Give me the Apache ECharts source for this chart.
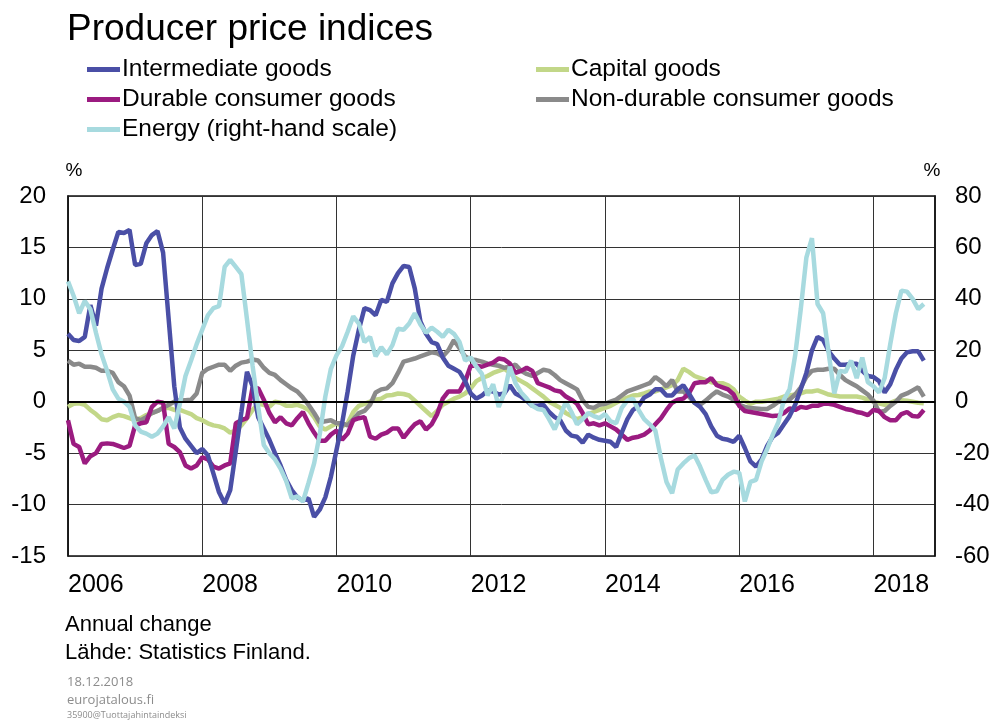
<!DOCTYPE html>
<html>
<head>
<meta charset="utf-8">
<script src="https://cdn.jsdelivr.net/npm/echarts@6/dist/echarts.min.js"></script>
<style>
html,body{margin:0;padding:0;background:#fff;}
#chart{width:995px;height:724px;}
</style>
</head>
<body>
<div id="chart"></div>
<script>
// Monthly observations Jan 2006 .. Oct 2018 (annual change, %)
var startYear = 2006;
var axisEndYear = 2018; // axis runs to Dec 2018
var yearTicks = ['2006','2008','2010','2012','2014','2016','2018'];

var intermediate = [
 6.6, 6.0, 5.9, 6.3, 9.4, 7.4, 11.0, 13.0, 14.8, 16.5, 16.4, 16.7,
 13.3, 13.4, 15.4, 16.2, 16.6, 14.5, 8.0, 1.5, -2.5, -3.6, -4.3, -5.0,
 -4.6, -5.2, -7.0, -8.8, -9.9, -8.6, -4.8, -1.0, 2.9, 1.5, -1.5, -2.6,
 -3.7, -5.0, -6.2, -7.6, -8.6, -9.3, -9.6, -9.4, -11.2, -10.5, -9.3, -7.3,
 -4.7, -2.1, 1.0, 4.5, 7.0, 9.1, 8.9, 8.4, 9.9, 9.7, 11.5, 12.5,
 13.2, 13.1, 11.0, 7.8, 6.6, 5.8, 5.6, 4.3, 3.5, 3.2, 2.9, 2.0,
 0.8, 0.3, 0.6, 1.1, 1.0, 0.7, 0.8, 1.6, 0.8, 0.5, 0.1, -0.4,
 -0.4, -0.3, -1.0, -1.5, -1.8, -2.8, -3.3, -3.4, -4.0, -3.2, -3.5, -3.7,
 -3.8, -3.9, -4.4, -3.0, -1.7, -0.8, -0.4, 0.4, 0.7, 1.2, 1.2, 0.6,
 0.6, 1.2, 1.6, 0.8, -0.1, -0.5, -1.2, -2.4, -3.3, -3.6, -3.7, -3.9,
 -3.3, -4.5, -5.8, -6.3, -5.6, -4.3, -3.4, -3.0, -2.2, -1.4, -0.3, 1.2,
 2.8, 5.0, 6.3, 6.0, 4.9, 4.2, 3.6, 3.6, 3.7, 3.7, 3.0, 2.5,
 2.4, 2.0, 0.9, 1.7, 3.1, 4.2, 4.8, 4.9, 4.9, 4.0
];

var durable = [
 -1.8, -4.1, -4.4, -6.0, -5.3, -5.0, -4.1, -4.05, -4.1, -4.3, -4.5, -4.3,
 -2.3, -2.1, -2.0, -0.5, 0.0, -0.1, -4.1, -4.4, -4.9, -6.2, -6.5, -6.2,
 -5.4, -5.6, -6.3, -6.5, -6.2, -6.0, -2.1, -1.8, -1.6, 1.4, 1.3, 0.2,
 -1.1, -2.0, -1.5, -2.1, -2.3, -1.6, -1.0, -2.1, -3.0, -3.8, -3.8, -3.2,
 -2.8, -3.7, -3.1, -1.8, -1.6, -1.5, -3.4, -3.6, -3.2, -3.0, -2.6, -2.6,
 -3.5, -2.8, -2.2, -1.9, -2.7, -2.2, -1.2, 0.3, 1.0, 1.0, 1.0, 2.0,
 3.5, 3.5, 3.4, 3.6, 3.8, 4.2, 4.1, 3.7, 2.8, 3.0, 3.3, 3.0,
 1.8, 1.6, 1.4, 1.1, 1.0, 0.5, 0.2, -0.2, -1.1, -2.2, -2.1, -2.3,
 -2.1, -2.4, -2.7, -3.2, -3.7, -3.5, -3.4, -3.2, -2.8, -2.2, -1.6, -0.8,
 -0.1, 0.2, 0.3, 0.8, 1.8, 1.9, 1.9, 2.3, 1.6, 1.4, 1.2, 0.7,
 -0.4, -0.9, -1.0, -1.1, -1.2, -1.3, -1.4, -1.35, -1.1, -0.65, -0.8, -0.5,
 -0.6, -0.4, -0.4, -0.2, -0.2, -0.3, -0.5, -0.7, -0.8, -1.0, -1.1, -1.3,
 -0.8, -0.9, -1.5, -1.8, -1.8, -1.2, -1.0, -1.4, -1.45, -0.8
];

var capital = [
 -0.5, -0.2, -0.15, -0.3, -0.8, -1.2, -1.7, -1.8, -1.5, -1.3, -1.4, -1.6,
 -1.8, -1.6, -1.3, -1.1, -0.9, -0.6, -0.6, -0.8, -0.8, -1.0, -1.2, -1.6,
 -1.8, -2.1, -2.3, -2.4, -2.6, -3.0, -2.8, -2.3, -1.6, -0.8, -0.2, -0.3,
 -0.5, 0.0, -0.1, -0.4, -0.4, -0.3, -0.5, -0.8, -1.5, -2.4, -2.7, -2.4,
 -2.1, -2.4, -2.1, -1.0, -0.4, -0.2, 0.0, 0.2, 0.3, 0.6, 0.65, 0.8,
 0.75, 0.6, 0.1, -0.4, -0.9, -1.4, -0.9, -0.3, 0.0, 0.3, 0.5, 0.8,
 1.3, 2.0, 2.3, 2.5, 2.8, 3.0, 3.2, 2.8, 2.3, 2.0, 1.7, 1.3,
 0.9, 0.5, 0.0, -0.3, -0.6, -1.1, -1.4, -1.7, -1.5, -1.2, -1.0, -0.8,
 -0.6, -0.4, -0.1, 0.2, 0.4, 0.6, 0.65, 0.8, 1.0, 1.0, 1.2, 1.4,
 1.6, 2.1, 3.2, 2.9, 2.5, 2.3, 2.1, 1.9, 1.8, 1.8, 1.6, 1.2,
 0.5, 0.1, -0.2, 0.0, 0.0, 0.1, 0.2, 0.3, 0.5, 0.6, 0.7, 0.8,
 1.0, 1.0, 1.1, 0.9, 0.7, 0.6, 0.5, 0.5, 0.5, 0.5, 0.4, 0.2,
 0.0, -0.15, -0.3, -0.1, 0.1, 0.15, 0.1, 0.0, -0.1, -0.15
];

var nonDurable = [
 4.0, 3.6, 3.7, 3.4, 3.4, 3.3, 3.0, 3.0, 2.8, 1.9, 1.5, 0.6,
 -1.6, -1.8, -1.5, -1.1, -0.9, -0.6, -0.3, 0.0, 0.15, 0.15, 0.2, 0.8,
 2.8, 3.2, 3.4, 3.6, 3.6, 3.0, 3.5, 3.8, 3.9, 4.1, 4.0, 3.3,
 2.8, 2.6, 2.1, 1.7, 1.3, 1.0, 0.4, -0.3, -1.1, -2.0, -1.9, -1.8,
 -2.1, -2.1, -2.3, -1.7, -1.1, -0.9, -0.3, 0.9, 1.2, 1.3, 1.8, 2.8,
 3.9, 4.05, 4.2, 4.4, 4.6, 4.8, 4.7, 4.4, 5.0, 6.0, 5.2, 4.4,
 4.1, 4.05, 3.9, 3.7, 3.6, 3.5, 3.3, 3.4, 3.6, 3.0, 2.7, 2.5,
 2.8, 3.1, 3.0, 2.6, 2.1, 1.8, 1.5, 1.2, 0.15, -0.5, -0.6, -0.3,
 -0.2, 0.0, 0.2, 0.6, 1.0, 1.2, 1.4, 1.6, 1.8, 2.4, 2.0, 1.5,
 2.1, 1.0, 1.0, 0.5, -0.1, -0.3, 0.1, 0.6, 1.0, 0.7, 0.5, 0.2,
 -0.3, -0.5, -0.6, -0.65, -0.7, -0.7, -0.4, 0.0, 0.0, 0.2, 0.7, 1.4,
 2.4, 3.0, 3.1, 3.1, 3.2, 3.2, 2.6, 2.1, 1.8, 1.5, 1.1, 0.7,
 0.1, -1.0, -0.9, -0.4, 0.0, 0.6, 0.8, 1.1, 1.4, 0.5
];

// Energy, right-hand scale
var energy = [
 46.8, 41.2, 34.4, 39.2, 36, 26.8, 18.4, 12, 4.8, 1.2, 0, -2,
 -9.2, -11.6, -12.4, -13.6, -12.4, -9.6, -6, -10.4, -0.8, 10, 16, 22.4,
 28, 33.6, 36.4, 37.2, 52.4, 55.2, 52.4, 49.6, 32, 14, -2, -16.8,
 -20, -22.4, -26, -30.8, -37.6, -36.8, -38.8, -31.6, -24, -12.8, 2, 12.8,
 18, 21.6, 27.2, 33.2, 30.4, 23.2, 25.2, 17.6, 21.2, 18.4, 22, 28.4,
 28, 30.4, 34.4, 30, 26.8, 28.8, 27.2, 25.2, 28, 26.4, 23.2, 16,
 17.2, 13.6, 10.8, 2.4, 6.8, -2, 3.2, 13.6, 7.2, 3.6, 1.2, -1.6,
 -2.8, -3.2, -6.8, -10.8, -5.6, 0, -4, -8.8, -6.8, -4.4, -5.6, -6.4,
 -4.8, -7.6, -8.4, -2.4, 0.4, 1.2, -3.2, -6.8, -8.8, -11.2, -22, -31.2,
 -35.6, -26.4, -24, -22, -20.8, -25.2, -30.4, -35.2, -34.8, -30.4, -28.4, -27.2,
 -27.6, -38.8, -31.2, -30.4, -23.2, -18.4, -12.8, -8, 0.8, 4.8, 18, 36,
 56, 63.6, 38, 34.4, 18.8, 3.2, 12, 11.6, 16, 9.2, 17.2, 7.6,
 6, 3.6, 9.2, 22.4, 34.4, 43.2, 42.8, 40, 36, 38
];

var seriesNames = ['Intermediate goods','Capital goods','Durable consumer goods','Non-durable consumer goods','Energy (right-hand scale)'];
var seriesColors = ['#4a4fa6','#c2d788','#9b1b80','#8a8a8a','#a7dadf'];

// month categories
var months = [];
for (var y = startYear; y <= axisEndYear; y++) {
  for (var m = 1; m <= 12; m++) months.push(y + '-' + (m < 10 ? '0' + m : m));
}
function isYearTick(idx, val) {
  var v = months[idx];
  return v.slice(5) === '01' && yearTicks.indexOf(v.slice(0, 4)) >= 0;
}

var FONT = '"Liberation Sans", Arial, sans-serif';
var chart = echarts.init(document.getElementById('chart'));

function legendAt(name, left, top) {
  return {
    data: [name], left: left, top: top, padding: 0, icon: 'rect',
    itemWidth: 33, itemHeight: 5, itemGap: 0,
    textStyle: { fontSize: 24.5, color: '#000', fontFamily: FONT, padding: [0,0,0,-3] }
  };
}

function lineSeries(idx, data, yIndex, extra) {
  var s = {
    name: seriesNames[idx], type: 'line', data: data, yAxisIndex: yIndex,
    showSymbol: false, symbol: 'none', smooth: false,
    lineStyle: { width: 4.5, color: seriesColors[idx] },
    itemStyle: { color: seriesColors[idx] },
    emphasis: { disabled: true }
  };
  if (extra) for (var k in extra) s[k] = extra[k];
  return s;
}

var option = {
  animation: false,
  backgroundColor: '#fff',
  title: {
    text: 'Producer price indices', left: 62, top: 6,
    textStyle: { fontSize: 37, fontWeight: 'normal', color: '#000', fontFamily: FONT }
  },
  legend: [
    legendAt('Intermediate goods', 87, 57),
    legendAt('Capital goods', 536, 57),
    legendAt('Durable consumer goods', 87, 87),
    legendAt('Non-durable consumer goods', 536, 87),
    legendAt('Energy (right-hand scale)', 87, 117)
  ],
  grid: {
    left: 68, right: 60, top: 196, bottom: 168,
    show: true, borderColor: '#111', borderWidth: 1.5
  },
  xAxis: {
    type: 'category', data: months, boundaryGap: false,
    axisLine: { show: true, lineStyle: { color: '#111', width: 1.5 } },
    axisTick: { show: false },
    axisLabel: {
      interval: isYearTick, align: 'left', margin: 17,
      fontSize: 25, color: '#000', fontFamily: FONT,
      formatter: function (v) { return v.slice(0, 4); }
    },
    splitLine: { show: true, interval: isYearTick, lineStyle: { color: '#333', width: 1 } }
  },
  yAxis: [
    {
      type: 'value', min: -15, max: 20, interval: 5, position: 'left',
      name: '%', nameLocation: 'end', nameGap: 16,
      nameTextStyle: { fontSize: 19, color: '#000', fontFamily: FONT, padding: [0, 0, 0, 12] },
      axisLine: { show: true, lineStyle: { color: '#111', width: 1.5 } },
      axisTick: { show: false },
      axisLabel: { fontSize: 24, color: '#000', margin: 22, fontFamily: FONT },
      splitLine: { show: true, lineStyle: { color: '#333', width: 1 } }
    },
    {
      type: 'value', min: -60, max: 80, interval: 20, position: 'right',
      name: '%', nameLocation: 'end', nameGap: 16,
      nameTextStyle: { fontSize: 19, color: '#000', fontFamily: FONT, padding: [0, 6, 0, 0] },
      axisLine: { show: true, lineStyle: { color: '#111', width: 1.5 } },
      axisTick: { show: false },
      axisLabel: { fontSize: 24, color: '#000', margin: 20, fontFamily: FONT },
      splitLine: { show: false }
    }
  ],
  series: [
    lineSeries(1, capital, 0, {
      markLine: {
        silent: true, symbol: ['none', 'none'], label: { show: false },
        lineStyle: { color: '#000', width: 2.2, type: 'solid' },
        data: [{ yAxis: 0 }]
      }
    }),
    lineSeries(3, nonDurable, 0),
    lineSeries(2, durable, 0),
    lineSeries(0, intermediate, 0),
    lineSeries(4, energy, 1)
  ],
  graphic: [
    { type: 'text', left: 65, top: 614, style: { text: 'Annual change', fill: '#000', font: '22px ' + FONT } },
    { type: 'text', left: 65, top: 642, style: { text: 'Lähde: Statistics Finland.', fill: '#000', font: '22px ' + FONT } },
    { type: 'text', left: 67, top: 676, style: { text: '18.12.2018', fill: '#8c8c8c', font: '13px "Open Sans", sans-serif' } },
    { type: 'text', left: 67, top: 694, style: { text: 'eurojatalous.fi', fill: '#8c8c8c', font: '13px "Open Sans", sans-serif' } },
    { type: 'text', left: 67, top: 711, style: { text: '35900@Tuottajahintaindeksi', fill: '#8c8c8c', font: '9px "Open Sans", sans-serif' } }
  ]
};
chart.setOption(option);
</script>
</body>
</html>
